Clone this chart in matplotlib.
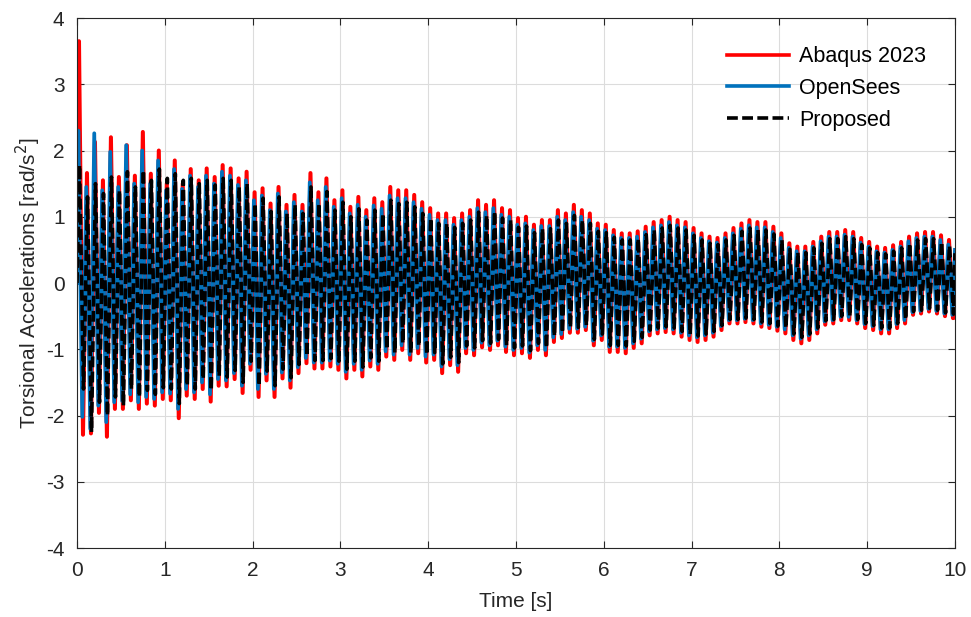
import numpy as np
import matplotlib
matplotlib.use("Agg")
import matplotlib.pyplot as plt

# peak values per cycle (about 11 cycles per second)
abaqus_up = [3.65, 1.66, 2.13, 1.55, 2.20, 1.60, 2.08, 1.62, 2.28, 1.65, 2.00,
             1.50, 1.85, 1.50, 1.72, 1.55, 1.73, 1.60, 1.78, 1.73, 1.58, 1.68,
             1.37, 1.43, 1.20, 1.45, 1.18, 1.33, 1.18, 1.66, 1.37, 1.58, 1.25,
             1.40, 1.15, 1.30, 1.10, 1.28, 1.22, 1.45, 1.40, 1.40, 1.33, 1.22,
             1.13, 1.05, 1.05, 0.98, 1.05, 1.10, 1.25, 1.18, 1.25, 1.13, 1.10,
             0.98, 1.00, 0.88, 0.95, 0.95, 1.10, 1.05, 1.18, 1.10, 1.05, 0.90,
             0.88, 0.80, 0.75, 0.75, 0.78, 0.85, 0.92, 0.95, 1.00, 0.95, 0.92,
             0.83, 0.75, 0.70, 0.68, 0.75, 0.83, 0.90, 0.95, 0.92, 0.92, 0.85,
             0.75, 0.60, 0.55, 0.55, 0.62, 0.70, 0.77, 0.77, 0.80, 0.77, 0.68,
             0.62, 0.55, 0.53, 0.57, 0.62, 0.70, 0.75, 0.77, 0.77, 0.72, 0.65]
abaqus_low = [-2.29, -2.27, -1.96, -2.32, -1.90, -1.90, -1.77, -1.90, -1.82, -1.85, -1.75,
              -1.77, -2.04, -1.70, -1.75, -1.60, -1.79, -1.55, -1.56, -1.45, -1.66, -1.31,
              -1.72, -1.47, -1.72, -1.44, -1.58, -1.36, -1.21, -1.29, -1.29, -1.26, -1.31,
              -1.44, -1.31, -1.41, -1.26, -1.31, -1.11, -1.16, -1.01, -1.16, -1.06, -1.20,
              -1.16, -1.36, -1.24, -1.34, -1.06, -1.09, -0.97, -1.01, -0.94, -1.04, -1.09,
              -1.06, -1.13, -1.01, -1.09, -0.89, -0.83, -0.75, -0.75, -0.71, -0.94, -0.86,
              -1.04, -1.04, -1.06, -0.98, -0.91, -0.79, -0.76, -0.74, -0.76, -0.81, -0.86,
              -0.89, -0.86, -0.81, -0.71, -0.61, -0.61, -0.59, -0.61, -0.66, -0.68, -0.72,
              -0.76, -0.86, -0.91, -0.86, -0.76, -0.63, -0.61, -0.56, -0.56, -0.61, -0.68,
              -0.71, -0.76, -0.76, -0.68, -0.61, -0.48, -0.46, -0.43, -0.46, -0.50, -0.53]

opensees_up = [2.30, 1.45, 2.26, 1.40, 1.98, 1.45, 2.08, 1.50, 2.00, 1.50, 1.85,
               1.40, 1.72, 1.42, 1.62, 1.45, 1.62, 1.50, 1.68, 1.62, 1.48, 1.55,
               1.25, 1.32, 1.10, 1.35, 1.08, 1.22, 1.08, 1.52, 1.25, 1.45, 1.15,
               1.28, 1.05, 1.18, 1.00, 1.17, 1.12, 1.32, 1.28, 1.28, 1.22, 1.12,
               1.03, 0.95, 0.95, 0.88, 0.95, 1.00, 1.13, 1.07, 1.13, 1.03, 1.00,
               0.88, 0.90, 0.80, 0.86, 0.86, 1.00, 0.95, 1.07, 1.00, 0.95, 0.82,
               0.80, 0.72, 0.68, 0.68, 0.70, 0.77, 0.84, 0.87, 0.92, 0.87, 0.84,
               0.75, 0.68, 0.63, 0.61, 0.68, 0.75, 0.82, 0.87, 0.84, 0.84, 0.77,
               0.68, 0.53, 0.48, 0.48, 0.55, 0.63, 0.70, 0.70, 0.73, 0.70, 0.61,
               0.55, 0.48, 0.46, 0.50, 0.55, 0.63, 0.68, 0.70, 0.70, 0.65, 0.58]
opensees_low = [-2.02, -2.20, -1.85, -2.10, -1.80, -1.78, -1.68, -1.80, -1.72, -1.75, -1.65,
                -1.67, -1.90, -1.60, -1.65, -1.50, -1.68, -1.45, -1.47, -1.36, -1.55, -1.22,
                -1.60, -1.37, -1.60, -1.35, -1.47, -1.27, -1.13, -1.20, -1.20, -1.17, -1.22,
                -1.34, -1.22, -1.31, -1.17, -1.22, -1.03, -1.08, -0.94, -1.08, -0.98, -1.11,
                -1.08, -1.26, -1.15, -1.24, -0.98, -1.01, -0.90, -0.94, -0.87, -0.96, -1.01,
                -0.98, -1.05, -0.94, -1.01, -0.82, -0.77, -0.69, -0.69, -0.66, -0.87, -0.79,
                -0.96, -0.96, -0.98, -0.91, -0.84, -0.73, -0.70, -0.68, -0.70, -0.75, -0.79,
                -0.82, -0.79, -0.75, -0.65, -0.56, -0.56, -0.54, -0.56, -0.61, -0.63, -0.66,
                -0.70, -0.79, -0.84, -0.79, -0.70, -0.58, -0.56, -0.51, -0.51, -0.56, -0.62,
                -0.65, -0.70, -0.70, -0.62, -0.56, -0.44, -0.42, -0.39, -0.42, -0.46, -0.48]

proposed_up = [1.78, 1.30, 1.50, 1.35, 1.60, 1.40, 1.68, 1.45, 1.70, 1.55, 1.72,
               1.58, 1.65, 1.55, 1.58, 1.50, 1.55, 1.48, 1.58, 1.55, 1.45, 1.50,
               1.20, 1.28, 1.08, 1.30, 1.05, 1.18, 1.05, 1.45, 1.20, 1.38, 1.10,
               1.22, 1.00, 1.12, 0.95, 1.10, 1.05, 1.25, 1.20, 1.22, 1.15, 1.05,
               0.98, 0.90, 0.90, 0.84, 0.90, 0.95, 1.07, 1.02, 1.08, 0.98, 0.95,
               0.84, 0.86, 0.76, 0.82, 0.82, 0.95, 0.90, 1.02, 0.95, 0.90, 0.78,
               0.76, 0.69, 0.65, 0.65, 0.67, 0.73, 0.80, 0.83, 0.87, 0.83, 0.80,
               0.72, 0.65, 0.60, 0.58, 0.65, 0.72, 0.78, 0.83, 0.80, 0.80, 0.74,
               0.65, 0.51, 0.46, 0.46, 0.53, 0.60, 0.67, 0.67, 0.70, 0.67, 0.58,
               0.53, 0.46, 0.44, 0.48, 0.53, 0.60, 0.65, 0.67, 0.67, 0.62, 0.56]
proposed_low = [-1.60, -2.25, -1.80, -2.00, -1.72, -1.85, -1.60, -1.72, -1.62, -1.68, -1.58,
                -1.60, -1.82, -1.55, -1.60, -1.45, -1.62, -1.40, -1.42, -1.32, -1.50, -1.18,
                -1.55, -1.33, -1.55, -1.30, -1.43, -1.23, -1.10, -1.17, -1.17, -1.14, -1.18,
                -1.30, -1.18, -1.27, -1.13, -1.18, -1.00, -1.05, -0.91, -1.05, -0.95, -1.08,
                -1.05, -1.22, -1.12, -1.20, -0.95, -0.98, -0.87, -0.91, -0.85, -0.94, -0.98,
                -0.95, -1.02, -0.91, -0.98, -0.80, -0.75, -0.67, -0.67, -0.64, -0.85, -0.77,
                -0.94, -0.94, -0.95, -0.88, -0.82, -0.71, -0.68, -0.66, -0.68, -0.73, -0.77,
                -0.80, -0.77, -0.73, -0.64, -0.55, -0.55, -0.53, -0.55, -0.59, -0.61, -0.65,
                -0.68, -0.77, -0.82, -0.77, -0.68, -0.57, -0.55, -0.50, -0.50, -0.55, -0.61,
                -0.64, -0.68, -0.68, -0.61, -0.55, -0.43, -0.41, -0.38, -0.41, -0.45, -0.47]

end_values = {"Abaqus 2023": -0.52, "OpenSees": 0.50, "Proposed": 0.45}
t_end = 10.0


def peak_series(up, low, end_val, lag=0.0):
    # alternate max/min of each cycle along the time axis
    n = len(up)
    period = t_end / n
    k = np.arange(n)
    t = np.empty(2 * n)
    y = np.empty(2 * n)
    t[0::2] = (k + 0.25) * period + lag
    t[1::2] = (k + 0.75) * period + lag
    y[0::2] = up
    y[1::2] = low
    t = np.concatenate([[0.0], t, [t_end]])
    y = np.concatenate([[0.0], y, [end_val]])
    return t, y


plt.rcParams['font.family'] = ['Liberation Sans', 'DejaVu Sans']
plt.rcParams['axes.unicode_minus'] = False

fig = plt.figure(figsize=(9.71, 6.17), dpi=100)
ax = fig.add_axes([0.0793, 0.1118, 0.9042, 0.859])

t, y = peak_series(abaqus_up, abaqus_low, end_values["Abaqus 2023"])
ax.plot(t, y, color=(1, 0, 0), lw=2.9, label='Abaqus 2023')
t, y = peak_series(opensees_up, opensees_low, end_values["OpenSees"], lag=-0.008)
ax.plot(t, y, color='#0072BD', lw=2.7, label='OpenSees')
t, y = peak_series(proposed_up, proposed_low, end_values["Proposed"], lag=0.006)
ax.plot(t, y, color='black', lw=2.6, dashes=(3.0, 1.2), label='Proposed')

ax.set_xlim(0, 10)
ax.set_ylim(-4, 4)
ax.set_xticks(np.arange(0, 11, 1))
ax.set_yticks(np.arange(-4, 5, 1))
ax.grid(True, color='#dcdcdc', lw=0.8)
ax.set_axisbelow(True)
ax.tick_params(direction='in', top=True, right=True, length=5, width=0.8,
               labelsize=15, colors='#262626', pad=9)
for s in ax.spines.values():
    s.set_color('#262626')
    s.set_linewidth(0.8)

ax.set_xlabel('Time [s]', fontsize=15, color='#262626', labelpad=9)
ax.set_ylabel('Torsional Accelerations [rad/s$^2$]', fontsize=15, color='#262626', labelpad=2)

leg = ax.legend(loc='upper right', bbox_to_anchor=(0.977, 0.963), frameon=False,
                fontsize=15.5, handlelength=2.9, labelspacing=0.5,
                borderaxespad=0.0, handletextpad=0.45)
for h in leg.get_lines():
    h.set_linewidth(2.6)

fig.savefig('out.png', dpi=100)
